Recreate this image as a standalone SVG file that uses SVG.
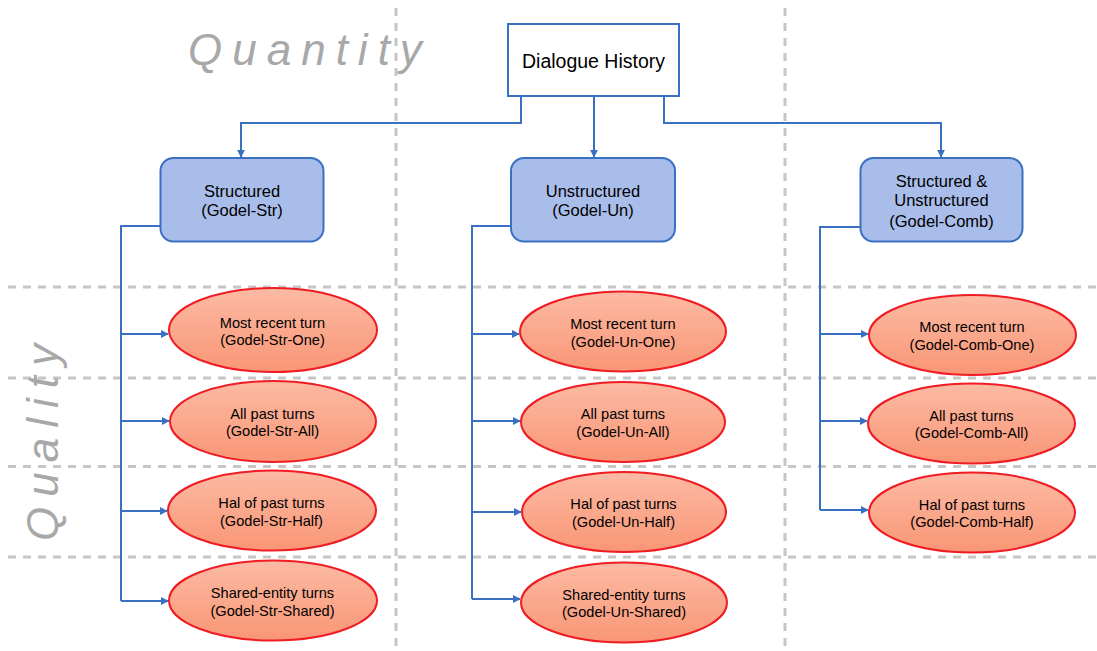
<svg xmlns="http://www.w3.org/2000/svg" width="1097" height="651" viewBox="0 0 1097 651">
<defs>
<linearGradient id="eg" x1="0" y1="0" x2="0" y2="1">
<stop offset="0" stop-color="#fcbaa3"/>
<stop offset="1" stop-color="#f99676"/>
</linearGradient>
<marker id="ah" viewBox="0 0 10 10" refX="9" refY="5" markerWidth="4" markerHeight="4" orient="auto" markerUnits="strokeWidth">
<path d="M0,0 L10,5 L0,10 z" fill="#3a70c2"/>
</marker>
<style>
.grid{stroke:#c6c6c6;stroke-width:3;stroke-dasharray:8 7;fill:none}
.big{font-family:"Liberation Sans",Arial,sans-serif;font-style:italic;font-size:44px;letter-spacing:10px;fill:#a8a8a8}
.conn{stroke:#3a70c2;stroke-width:2;fill:none}
.arr{marker-end:url(#ah)}
.rect{fill:#a9bdea;stroke:#3a70c2;stroke-width:2}
.ell{fill:url(#eg);stroke:#ef1c24;stroke-width:2}
.t{font-family:"Liberation Sans",Arial,sans-serif;fill:#000;text-anchor:middle}
.t16{font-size:16.5px}
.t15{font-size:14.6px}
</style>
</defs>
<rect width="1097" height="651" fill="#ffffff"/>
<g id="grid">
<line class="grid" x1="396" y1="8" x2="396" y2="651"/>
<line class="grid" x1="785" y1="8" x2="785" y2="651"/>
<line class="grid" x1="8" y1="287" x2="1097" y2="287"/>
<line class="grid" x1="8" y1="378" x2="1097" y2="378"/>
<line class="grid" x1="8" y1="466.5" x2="1097" y2="466.5"/>
<line class="grid" x1="8" y1="557" x2="1097" y2="557"/>
</g>
<g id="labels">
<text class="big" x="188" y="65">Quantity</text>
<text class="big" transform="translate(58,541) rotate(-90)" x="0" y="0">Quality</text>
</g>
<g id="connectors">
<path class="conn arr" d="M521,96 V123 H241 V157"/>
<path class="conn arr" d="M594,96 V157"/>
<path class="conn arr" d="M664,96 V123 H941 V157"/>
<path class="conn" d="M160,226 H121 V601"/>
<path class="conn arr" d="M121,334 H168"/>
<path class="conn arr" d="M121,421 H169"/>
<path class="conn arr" d="M121,511 H167"/>
<path class="conn arr" d="M121,601 H168"/>
<path class="conn" d="M511,226 H472 V599"/>
<path class="conn arr" d="M472,334 H519"/>
<path class="conn arr" d="M472,421 H520"/>
<path class="conn arr" d="M472,512 H521"/>
<path class="conn arr" d="M472,599 H520"/>
<path class="conn" d="M860,227 H820 V510"/>
<path class="conn arr" d="M820,334 H868"/>
<path class="conn arr" d="M820,421 H867"/>
<path class="conn arr" d="M820,510 H868"/>
</g>
<g id="dialogue-history">
<rect x="508" y="24" width="171" height="72" fill="#ffffff" stroke="#3a70c2" stroke-width="2"/>
<text class="t" x="593.5" y="68" font-size="19.5">Dialogue History</text>
</g>
<g id="structured">
<rect class="rect" x="160.5" y="158" width="163" height="83.5" rx="13"/>
<text class="t t16" x="242" y="197">Structured</text>
<text class="t t16" x="242" y="216">(Godel-Str)</text>
</g>
<g id="unstructured">
<rect class="rect" x="511" y="158" width="164" height="83.5" rx="13"/>
<text class="t t16" x="593" y="197">Unstructured</text>
<text class="t t16" x="593" y="216">(Godel-Un)</text>
</g>
<g id="combined">
<rect class="rect" x="860.5" y="158" width="162" height="83.5" rx="13"/>
<text class="t t16" x="941.5" y="186.5">Structured &amp;</text>
<text class="t t16" x="941.5" y="206">Unstructured</text>
<text class="t t16" x="941.5" y="227">(Godel-Comb)</text>
</g>
<g id="str-one">
<ellipse class="ell" cx="273" cy="330" rx="104" ry="42"/>
<text class="t t15" x="272.5" y="328">Most recent turn</text>
<text class="t t15" x="272.5" y="345">(Godel-Str-One)</text>
</g>
<g id="str-all">
<ellipse class="ell" cx="273" cy="421.5" rx="103" ry="40.5"/>
<text class="t t15" x="272.5" y="418.5">All past turns</text>
<text class="t t15" x="272.5" y="436">(Godel-Str-All)</text>
</g>
<g id="str-half">
<ellipse class="ell" cx="272" cy="510.5" rx="104" ry="40"/>
<text class="t t15" x="271.5" y="508">Hal of past turns</text>
<text class="t t15" x="271.5" y="525.5">(Godel-Str-Half)</text>
</g>
<g id="str-shared">
<ellipse class="ell" cx="273" cy="600.5" rx="104" ry="40"/>
<text class="t t15" x="272.5" y="598">Shared-entity turns</text>
<text class="t t15" x="272.5" y="615.5">(Godel-Str-Shared)</text>
</g>
<g id="un-one">
<ellipse class="ell" cx="623" cy="331.5" rx="103" ry="40"/>
<text class="t t15" x="623" y="329">Most recent turn</text>
<text class="t t15" x="623" y="346.5">(Godel-Un-One)</text>
</g>
<g id="un-all">
<ellipse class="ell" cx="623" cy="422" rx="102" ry="40"/>
<text class="t t15" x="623" y="419">All past turns</text>
<text class="t t15" x="623" y="436.5">(Godel-Un-All)</text>
</g>
<g id="un-half">
<ellipse class="ell" cx="624" cy="512" rx="102" ry="40"/>
<text class="t t15" x="623.5" y="509">Hal of past turns</text>
<text class="t t15" x="623.5" y="526.5">(Godel-Un-Half)</text>
</g>
<g id="un-shared">
<ellipse class="ell" cx="624" cy="602.5" rx="103" ry="40"/>
<text class="t t15" x="624" y="599.5">Shared-entity turns</text>
<text class="t t15" x="624" y="617">(Godel-Un-Shared)</text>
</g>
<g id="comb-one">
<ellipse class="ell" cx="972.5" cy="335" rx="103.5" ry="40"/>
<text class="t t15" x="972" y="332">Most recent turn</text>
<text class="t t15" x="972" y="349.5">(Godel-Comb-One)</text>
</g>
<g id="comb-all">
<ellipse class="ell" cx="971.5" cy="423.5" rx="103.5" ry="40"/>
<text class="t t15" x="971.5" y="420.5">All past turns</text>
<text class="t t15" x="971.5" y="438">(Godel-Comb-All)</text>
</g>
<g id="comb-half">
<ellipse class="ell" cx="972" cy="512.5" rx="103" ry="40"/>
<text class="t t15" x="972" y="509.5">Hal of past turns</text>
<text class="t t15" x="972" y="527">(Godel-Comb-Half)</text>
</g>
</svg>
